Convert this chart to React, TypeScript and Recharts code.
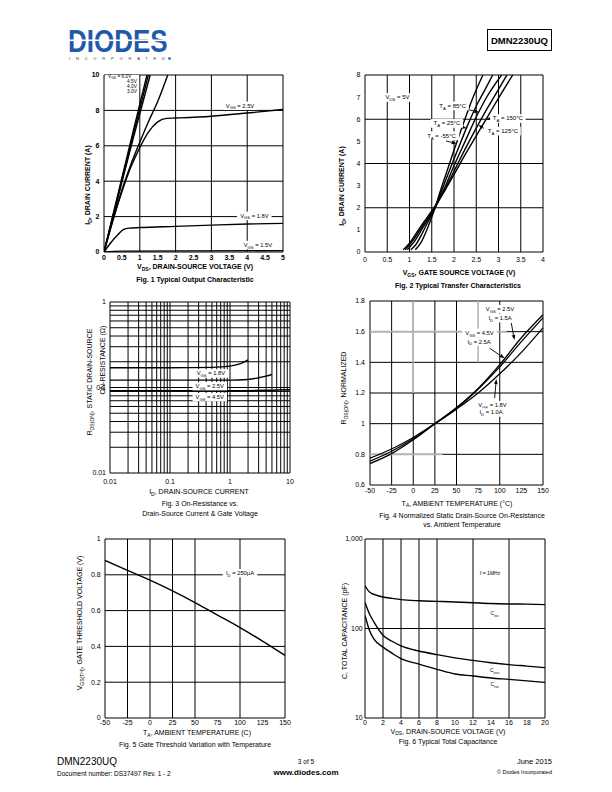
import React from 'react';
import {
  LineChart,
  Line,
  XAxis,
  YAxis,
  CartesianGrid,
  ReferenceDot,
  ReferenceLine,
  ReferenceArea,
} from 'recharts';

const FONT = '"Liberation Sans", Arial, Helvetica, sans-serif';

type Pt = [number, number];

// ---- Fig. 1 Typical Output Characteristic (VDS, ID) ----
const F1_X_TICKS = [0, 0.5, 1, 1.5, 2, 2.5, 3, 3.5, 4, 4.5, 5];
const F1_Y_TICKS = [0, 2, 4, 6, 8, 10];
const F1_VGS60: Pt[] = [[0, 0], [0.4, 3.35], [0.8, 6.7], [1.2, 10]];
const F1_VGS45: Pt[] = [[0, 0], [0.4, 3.25], [0.8, 6.5], [1.24, 10]];
const F1_VGS40: Pt[] = [[0, 0], [0.4, 3.15], [0.8, 6.3], [1.29, 10]];
const F1_VGS30: Pt[] = [[0, 0], [0.25, 1.8], [0.5, 3.5], [0.75, 4.95], [1.0, 6.2], [1.25, 7.4], [1.5, 8.5], [1.78, 10]];
const F1_VGS25: Pt[] = [[0, 0], [0.25, 1.8], [0.5, 3.4], [0.75, 4.8], [1.0, 5.9], [1.25, 6.8], [1.5, 7.35], [1.75, 7.55], [2, 7.57], [3, 7.67], [4, 7.85], [5, 8.05]];
const F1_VGS18: Pt[] = [[0, 0], [0.2, 0.55], [0.4, 1.0], [0.55, 1.28], [0.7, 1.35], [1, 1.38], [2, 1.45], [3, 1.52], [4, 1.58], [5, 1.62]];
const F1_VGS15: Pt[] = [[0, 0], [0.5, 0.05], [5, 0.08]];

// ---- Fig. 2 Typical Transfer Characteristics (VGS, ID) ----
const F2_X_TICKS = [0, 0.5, 1, 1.5, 2, 2.5, 3, 3.5, 4];
const F2_Y_TICKS = [0, 1, 2, 3, 4, 5, 6, 7, 8];
const F2_TM55: Pt[] = [[1.13, 0.1], [1.25, 0.4], [1.4, 1.05], [1.55, 1.85], [1.7, 2.8], [1.85, 3.7], [2.0, 4.6], [2.2, 5.75], [2.4, 6.85], [2.65, 8.0]];
const F2_T25: Pt[] = [[1.03, 0.1], [1.15, 0.35], [1.3, 0.9], [1.45, 1.5], [1.55, 1.9], [1.7, 2.65], [1.9, 3.7], [2.1, 4.7], [2.3, 5.7], [2.5, 6.6], [2.7, 7.35], [2.87, 8.0]];
const F2_T85: Pt[] = [[0.95, 0.1], [1.1, 0.45], [1.3, 1.1], [1.55, 1.9], [1.8, 2.95], [2.0, 3.9], [2.25, 5.0], [2.5, 6.1], [2.75, 7.05], [3.07, 8.0]];
const F2_T125: Pt[] = [[0.9, 0.1], [1.05, 0.45], [1.3, 1.2], [1.55, 1.95], [1.8, 2.85], [2.0, 3.65], [2.25, 4.65], [2.5, 5.6], [2.75, 6.5], [3.0, 7.35], [3.19, 8.0]];
const F2_T150: Pt[] = [[0.86, 0.1], [1.0, 0.4], [1.25, 1.15], [1.55, 2.0], [1.8, 2.8], [2.0, 3.5], [2.25, 4.4], [2.5, 5.25], [2.75, 6.1], [3.0, 6.95], [3.32, 8.0]];

// ---- Fig. 3 On-Resistance vs. ID (log-log) ----
const F3_X_DECADES = [0.01, 0.1, 1, 10];
const F3_Y_DECADES = [0.01, 0.1, 1];
const F3_VGS18: Pt[] = [[0.01, 0.17], [0.1, 0.17], [0.5, 0.172], [1, 0.178], [1.5, 0.19], [2, 0.21]];
const F3_VGS25: Pt[] = [[0.01, 0.122], [0.1, 0.122], [1, 0.122], [2, 0.124], [3, 0.13], [4, 0.136], [5, 0.142]];
const F3_VGS45: Pt[] = [[0.01, 0.0915], [1, 0.0915], [5, 0.093], [10, 0.094]];

// ---- Fig. 4 Normalized RDS(ON) vs. TA ----
const F4_X_TICKS = [-50, -25, 0, 25, 50, 75, 100, 125, 150];
const F4_Y_TICKS = [0.6, 0.8, 1, 1.2, 1.4, 1.6, 1.8];
const F4_TEMPS = [-50, -25, 0, 25, 50, 75, 100, 125, 150];
const F4_VGS25 = [0.74, 0.805, 0.895, 1.0, 1.105, 1.23, 1.385, 1.56, 1.71];
const F4_VGS45 = [0.755, 0.82, 0.902, 1.0, 1.1, 1.225, 1.37, 1.535, 1.69];
const F4_VGS18 = [0.775, 0.835, 0.91, 1.0, 1.095, 1.2, 1.325, 1.465, 1.625];

// ---- Fig. 5 Gate threshold vs. TA ----
const F5_X_TICKS = [-50, -25, 0, 25, 50, 75, 100, 125, 150];
const F5_Y_TICKS = [0, 0.2, 0.4, 0.6, 0.8, 1];
const F5_TEMPS = [-50, -25, 0, 25, 50, 75, 100, 125, 150];
const F5_VTH = [0.88, 0.825, 0.77, 0.71, 0.645, 0.575, 0.505, 0.43, 0.35];

// ---- Fig. 6 Typical Total Capacitance ----
const F6_X_TICKS = [0, 2, 4, 6, 8, 10, 12, 14, 16, 18, 20];
const F6_Y_TICKS = [10, 100, 1000];
const F6_VDS = [0, 0.5, 1, 2, 3, 4, 6, 8, 10, 12, 14, 16, 18, 20];
const F6_CISS = [300, 255, 240, 225, 217, 210, 204, 201, 198, 194, 190, 188, 187, 185];
const F6_COSS = [195, 145, 118, 84, 72, 64, 56, 51, 47, 44, 41.5, 39.5, 38, 36.5];
const F6_CRSS = [140, 95, 76, 62, 53, 46, 40, 35, 31, 29.5, 28, 27, 26, 25];

const rows = (pts: Pt[]) => pts.map(([x, y]) => ({ x, y }));
const zipRows = (xs: number[], ys: number[]) => xs.map((x, i) => ({ x, y: ys[i] }));
const minorTicks = (decades: number[]) => {
  const out: number[] = [];
  decades.forEach((d, i) => {
    if (i === decades.length - 1) out.push(d);
    else for (let k = 1; k <= 9; k++) out.push(k * d);
  });
  return out;
};
const isDecade = (v: number) => Math.abs(Math.log10(v) - Math.round(Math.log10(v))) < 1e-6;

// very small rich-text: "V_{GS} = 2.5V"
function parseRich(s: string) {
  const out: { t: string; sub: boolean }[] = [];
  const re = /_\{([^}]*)\}/g;
  let last = 0;
  let m: RegExpExecArray | null;
  while ((m = re.exec(s))) {
    if (m.index > last) out.push({ t: s.slice(last, m.index), sub: false });
    out.push({ t: m[1], sub: true });
    last = re.lastIndex;
  }
  if (last < s.length) out.push({ t: s.slice(last), sub: false });
  return out;
}

const richHtml = (s: string) =>
  parseRich(s).map((p, i) =>
    p.sub ? (
      <span key={i} style={{ fontSize: '0.72em', position: 'relative', top: '0.3em' }}>{p.t}</span>
    ) : (
      <span key={i}>{p.t}</span>
    )
  );

function SvgRich({ x, y, text, fs, anchor = 'start' }: { x: number; y: number; text: string; fs: number; anchor?: string }) {
  let shift = 0;
  return (
    <text x={x} y={y} fontSize={fs} textAnchor={anchor as any} fontFamily={FONT} fill="#000">
      {parseRich(text).map((p, i) => {
        const target = p.sub ? fs * 0.3 : 0;
        const dy = target - shift;
        shift = target;
        return (
          <tspan key={i} dy={dy} fontSize={p.sub ? fs * 0.72 : fs}>
            {p.t}
          </tspan>
        );
      })}
    </text>
  );
}

// text annotation placed in data coordinates, centred vertically on y
function note(key: string, x: number, y: number, text: string, fs = 5.8, anchor = 'middle', bg = true) {
  const plain = text.replace(/_\{([^}]*)\}/g, '$1');
  const w = plain.length * fs * 0.56 + 2;
  return (
    <ReferenceDot
      key={key}
      x={x}
      y={y}
      r={0}
      ifOverflow="visible"
      shape={(p: any) => {
        const left = anchor === 'middle' ? p.cx - w / 2 : anchor === 'end' ? p.cx - w + 1 : p.cx - 1;
        return (
          <g>
            {bg && <rect x={left} y={p.cy - fs * 0.7} width={w} height={fs * 1.45} fill="#fff" />}
            <SvgRich x={p.cx} y={p.cy + fs * 0.35} text={text} fs={fs} anchor={anchor} />
          </g>
        );
      }}
    />
  );
}

function ArrowShape(p: any) {
  const { x1, y1, x2, y2 } = p;
  const a = Math.atan2(y2 - y1, x2 - x1);
  const L = 5;
  const W = 1.8;
  const bx = x2 - L * Math.cos(a);
  const by = y2 - L * Math.sin(a);
  const pts = [
    [x2, y2],
    [bx + W * Math.sin(a), by - W * Math.cos(a)],
    [bx - W * Math.sin(a), by + W * Math.cos(a)],
  ]
    .map((q) => q.join(','))
    .join(' ');
  return (
    <g>
      <line x1={x1} y1={y1} x2={bx} y2={by} stroke="#000" strokeWidth={0.9} />
      <polygon points={pts} fill="#000" />
    </g>
  );
}

const arrow = (key: string, x1: number, y1: number, x2: number, y2: number) => (
  <ReferenceLine
    key={key}
    segment={[{ x: x1, y: y1 }, { x: x2, y: y2 }]}
    ifOverflow="visible"
    shape={(p: any) => <ArrowShape {...p} />}
  />
);

// light grey stretches of grid seen in Fig. 4
const greySeg = (key: string, x1: number, y1: number, x2: number, y2: number) => (
  <ReferenceLine key={key} segment={[{ x: x1, y: y1 }, { x: x2, y: y2 }]} stroke="#b4b4b4" strokeWidth={1.6} />
);

const tick = { fontSize: 7, fill: '#000', fontFamily: FONT };
const tickBold = { ...tick, fontWeight: 'bold' };

type Plot = { l: number; t: number; w: number; h: number };

function Frame({ plot, yW = 34, xH = 16, children }: { plot: Plot; yW?: number; xH?: number; children: React.ReactNode }) {
  const T = 6;
  const R = 8;
  return (
    <div style={{ position: 'absolute', left: plot.l - yW, top: plot.t - T }}>
      <LineChart width={yW + plot.w + R} height={T + plot.h + xH} margin={{ top: T, right: R, left: 0, bottom: 0 }}>
        {children}
      </LineChart>
    </div>
  );
}

const curve = (key: string, data: { x: number; y: number }[], w = 1.4) => (
  <Line
    key={key}
    data={data}
    dataKey="y"
    type="monotone"
    stroke="#000"
    strokeWidth={w}
    dot={false}
    activeDot={false}
    isAnimationActive={false}
  />
);

function Txt({ x, y, text, fs = 7, bold = false, anchor = 'middle' }: { x: number; y: number; text: string; fs?: number; bold?: boolean; anchor?: 'middle' | 'start' | 'end' }) {
  const tx = anchor === 'middle' ? '-50%' : anchor === 'end' ? '-100%' : '0';
  return (
    <div
      style={{
        position: 'absolute',
        left: x,
        top: y,
        transform: `translate(${tx},-50%)`,
        whiteSpace: 'nowrap',
        fontSize: fs,
        lineHeight: 1,
        fontFamily: FONT,
        fontWeight: bold ? 'bold' : 'normal',
        color: '#000',
      }}
    >
      {richHtml(text)}
    </div>
  );
}

function YTitle({ x, y, text, fs = 7, bold = false }: { x: number; y: number; text: string; fs?: number; bold?: boolean }) {
  return (
    <div
      style={{
        position: 'absolute',
        left: x,
        top: y,
        transform: 'translate(-50%,-50%) rotate(-90deg)',
        whiteSpace: 'nowrap',
        fontSize: fs,
        lineHeight: 1,
        fontFamily: FONT,
        fontWeight: bold ? 'bold' : 'normal',
        color: '#000',
      }}
    >
      {richHtml(text)}
    </div>
  );
}

const grid = <CartesianGrid stroke="#000" strokeWidth={1} fill="none" />;

function Fig1() {
  const plot = { l: 104, t: 75, w: 179, h: 177 };
  return (
    <>
      <Frame plot={plot}>
        {grid}
        <XAxis dataKey="x" type="number" domain={[0, 5]} ticks={F1_X_TICKS} tick={tickBold} tickSize={0} tickMargin={3} axisLine={false} height={16} allowDataOverflow />
        <YAxis type="number" domain={[0, 10]} ticks={F1_Y_TICKS} tick={tickBold} tickSize={0} tickMargin={4.5} axisLine={false} width={34} allowDataOverflow />
        <ReferenceArea x1={0.03} x2={0.98} y1={8.95} y2={10} fill="#fff" fillOpacity={1} stroke="none" />
        {note('n60', 0.11, 9.93, 'V_{GS} = 6.0V', 4.8, 'start', false)}
        {note('n45', 0.92, 9.66, '4.5V', 4.8, 'end', false)}
        {note('n40', 0.92, 9.38, '4.0V', 4.8, 'end', false)}
        {note('n30', 0.92, 9.1, '3.0V', 4.8, 'end', false)}
        {note('n25', 3.8, 8.27, 'V_{GS} = 2.5V')}
        {note('n18', 4.2, 2.05, 'V_{GS} = 1.8V')}
        {note('n15', 4.3, 0.4, 'V_{GS} = 1.5V')}
        {curve('v60', rows(F1_VGS60))}
        {curve('v45', rows(F1_VGS45))}
        {curve('v40', rows(F1_VGS40))}
        {curve('v30', rows(F1_VGS30))}
        {curve('v25', rows(F1_VGS25))}
        {curve('v18', rows(F1_VGS18))}
        {curve('v15', rows(F1_VGS15))}
      </Frame>
      <YTitle x={88} y={185} text="I_{D}, DRAIN CURRENT (A)" bold />
      <Txt x={195} y={267} text="V_{DS}, DRAIN-SOURCE VOLTAGE (V)" bold />
      <Txt x={195} y={278.5} text="Fig. 1 Typical Output Characteristic" bold />
    </>
  );
}

function Fig2() {
  const plot = { l: 365, t: 75, w: 178, h: 177 };
  return (
    <>
      <Frame plot={plot}>
        {grid}
        <XAxis dataKey="x" type="number" domain={[0, 4]} ticks={F2_X_TICKS} tick={tick} tickSize={0} tickMargin={5.5} axisLine={false} height={16} allowDataOverflow />
        <YAxis type="number" domain={[0, 8]} ticks={F2_Y_TICKS} tick={tick} tickSize={0} tickMargin={4.5} axisLine={false} width={34} allowDataOverflow />
        {note('vds', 0.73, 6.99, 'V_{DS} = 5V', 6)}
        {note('t85', 1.97, 6.61, 'T_{A} = 85°C', 6)}
        {note('t25', 1.84, 5.82, 'T_{A} = 25°C', 6)}
        {note('tm55', 1.72, 5.26, 'T_{A} = -55°C', 6)}
        {note('t150', 3.21, 6.04, 'T_{A} = 150°C', 6)}
        {note('t125', 3.1, 5.47, 'T_{A} = 125°C', 6)}
        {curve('m55', rows(F2_TM55))}
        {curve('c25', rows(F2_T25))}
        {curve('c85', rows(F2_T85))}
        {curve('c125', rows(F2_T125))}
        {curve('c150', rows(F2_T150))}
        {arrow('a85', 2.28, 6.46, 2.57, 6.31)}
        {arrow('a25', 2.06, 5.71, 2.285, 5.59)}
        {arrow('am55', 1.82, 5.02, 2.06, 4.9)}
        {arrow('a150', 2.88, 6.04, 2.72, 6.0)}
        {arrow('a125', 2.67, 5.59, 2.546, 5.74)}
      </Frame>
      <YTitle x={342} y={186} text="I_{D}, DRAIN CURRENT (A)" bold />
      <Txt x={459} y={273} text="V_{GS}, GATE SOURCE VOLTAGE (V)" bold />
      <Txt x={458} y={285} text="Fig. 2 Typical Transfer Characteristics" bold />
    </>
  );
}

function Fig3() {
  const plot = { l: 110, t: 302, w: 180, h: 171 };
  const fmt = (v: number) => (isDecade(v) ? String(Number(v.toPrecision(3))) : '');
  return (
    <>
      <Frame plot={plot}>
        {grid}
        <XAxis dataKey="x" type="number" scale="log" domain={[0.01, 10]} ticks={minorTicks(F3_X_DECADES)} tickFormatter={fmt} interval={0} tick={tick} tickSize={0} tickMargin={6.5} axisLine={false} height={16} allowDataOverflow />
        <YAxis type="number" scale="log" domain={[0.01, 1]} ticks={minorTicks(F3_Y_DECADES)} tickFormatter={fmt} interval={0} tick={tick} tickSize={0} tickMargin={4} axisLine={false} width={34} allowDataOverflow />
        {note('g18', 0.48, 0.1466, 'V_{GS} = 1.8V')}
        {note('g25', 0.46, 0.104, 'V_{GS} = 2.5V')}
        {note('g45', 0.46, 0.0774, 'V_{GS} = 4.5V')}
        {curve('r18', rows(F3_VGS18))}
        {curve('r25', rows(F3_VGS25))}
        {curve('r45', rows(F3_VGS45))}
      </Frame>
      <YTitle x={90} y={382} text="R_{DS(ON)}, STATIC DRAIN-SOURCE" />
      <YTitle x={101.5} y={360} text="ON-RESISTANCE (Ω)" />
      <Txt x={199} y={492} text="I_{D}, DRAIN-SOURCE CURRENT" />
      <Txt x={200} y={503.3} text="Fig. 3 On-Resistance  vs." />
      <Txt x={200} y={512.7} text="Drain-Source Current & Gate Voltage" />
    </>
  );
}

function Fig4() {
  const plot = { l: 370, t: 301, w: 173, h: 184 };
  return (
    <>
      <Frame plot={plot}>
        {grid}
        <XAxis dataKey="x" type="number" domain={[-50, 150]} ticks={F4_X_TICKS} tick={tick} tickSize={0} tickMargin={3.5} axisLine={false} height={16} allowDataOverflow />
        <YAxis type="number" domain={[0.6, 1.8]} ticks={F4_Y_TICKS} tick={tick} tickSize={0} tickMargin={5} axisLine={false} width={34} allowDataOverflow />
        {greySeg('g1', -50, 1.6, 108, 1.6)}
        {greySeg('g2', -50, 0.8, 34, 0.8)}
        {greySeg('g3', 0, 1.8, 0, 1.2)}
        {greySeg('g4', 75, 1.8, 75, 1.4)}
        {note('l25a', 100.3, 1.748, 'V_{GS} = 2.5V')}
        {note('l25b', 100.3, 1.689, 'I_{D} = 1.5A')}
        {note('l45a', 76.6, 1.593, 'V_{GS} = 4.5V')}
        {note('l45b', 76, 1.535, 'I_{D} = 2.5A')}
        {note('l18a', 91.6, 1.122, 'V_{GS} = 1.8V')}
        {note('l18b', 89.9, 1.074, 'I_{D} = 1.0A')}
        {curve('k25', zipRows(F4_TEMPS, F4_VGS25), 1.3)}
        {curve('k45', zipRows(F4_TEMPS, F4_VGS45), 1.3)}
        {curve('k18', zipRows(F4_TEMPS, F4_VGS18), 1.3)}
        {arrow('b25', 113.3, 1.657, 117, 1.545)}
        {arrow('b45', 88.3, 1.492, 105.6, 1.426)}
        {arrow('b18', 94.1, 1.166, 96, 1.291)}
      </Frame>
      <YTitle x={343.5} y={388} text="R_{DS(ON)}, NORMALIZED" />
      <Txt x={457} y={503.5} text="T_{A}, AMBIENT TEMPERATURE (°C)" />
      <Txt x={462} y={514.5} text="Fig. 4 Normalized Static Drain-Source On-Resistance" />
      <Txt x={462} y={523.5} text="vs. Ambient Temperature" />
    </>
  );
}

function Fig5() {
  const plot = { l: 105, t: 539, w: 180, h: 179 };
  return (
    <>
      <Frame plot={plot}>
        {grid}
        <XAxis dataKey="x" type="number" domain={[-50, 150]} ticks={F5_X_TICKS} tick={tick} tickSize={0} tickMargin={2.5} axisLine={false} height={16} allowDataOverflow />
        <YAxis type="number" domain={[0, 1]} ticks={F5_Y_TICKS} tick={tick} tickSize={0} tickMargin={4.3} axisLine={false} width={34} allowDataOverflow />
        {note('id', 100, 0.81, 'I_{D} = 250µA')}
        {curve('vth', zipRows(F5_TEMPS, F5_VTH))}
      </Frame>
      <YTitle x={80} y={623} text="V_{GS(TH)}, GATE THRESHOLD VOLTAGE (V)" />
      <Txt x={197} y={733.3} text="T_{A}, AMBIENT TEMPERATURE (C)" />
      <Txt x={195} y={744} text="Fig. 5 Gate Threshold Variation with Temperature" />
    </>
  );
}

function Fig6() {
  const plot = { l: 365, t: 539, w: 180, h: 179 };
  const fmt = (v: number) => (v === 1000 ? '1,000' : String(v));
  return (
    <>
      <Frame plot={plot}>
        {grid}
        <XAxis dataKey="x" type="number" domain={[0, 20]} ticks={F6_X_TICKS} tick={tick} tickSize={0} tickMargin={2} axisLine={false} height={16} allowDataOverflow />
        <YAxis type="number" scale="log" domain={[10, 1000]} ticks={F6_Y_TICKS} tickFormatter={fmt} tick={tick} tickSize={0} tickMargin={2.3} axisLine={false} width={34} allowDataOverflow />
        {note('f', 13.9, 417, 'f = 1MHz', 5)}
        {note('ciss', 14.4, 148, 'C_{iss}', 5)}
        {note('coss', 14.4, 34, 'C_{oss}', 5)}
        {note('crss', 14.4, 23.8, 'C_{rss}', 5)}
        {curve('ci', zipRows(F6_VDS, F6_CISS))}
        {curve('co', zipRows(F6_VDS, F6_COSS))}
        {curve('cr', zipRows(F6_VDS, F6_CRSS))}
      </Frame>
      <YTitle x={343.5} y={631} text="C, TOTAL CAPACITANCE (pF)" />
      <Txt x={448} y={731.7} text="V_{DS}, DRAIN-SOURCE VOLTAGE (V)" />
      <Txt x={448} y={741} text="Fig. 6 Typical Total Capacitance" />
    </>
  );
}

function Header() {
  return (
    <>
      <svg style={{ position: 'absolute', left: 66, top: 20 }} width={116} height={44}>
        <g transform="translate(2,32) scale(1,1.2)">
          <text x={0} y={0} fontSize={26} fontWeight={900} fontFamily={FONT} fill="#1e5aa8">
            DIODES
          </text>
        </g>
        <rect x={0} y={19.5} width={106} height={1.6} fill="#fff" />
        <text x={3} y={40} fontSize={4} fontFamily={FONT} fill="#333" textLength={96} lengthAdjust="spacing">
          INCORPORATED
        </text>
        <circle cx={103.5} cy={38.5} r={1.3} fill="#1e5aa8" />
      </svg>
      <div
        style={{
          position: 'absolute',
          left: 487,
          top: 29,
          width: 63,
          height: 20,
          border: '1px solid #000',
          display: 'flex',
          alignItems: 'center',
          justifyContent: 'center',
          fontFamily: FONT,
          fontWeight: 'bold',
          fontSize: 9.5,
        }}
      >
        DMN2230UQ
      </div>
    </>
  );
}

function Footer() {
  return (
    <>
      <Txt x={57} y={762} text="DMN2230UQ" fs={10} anchor="start" />
      <Txt x={57} y={774} text="Document number: DS37497 Rev. 1 - 2" fs={6.5} anchor="start" />
      <Txt x={306} y={761.5} text="3 of 5" fs={6.5} />
      <Txt x={306} y={773} text="www.diodes.com" fs={8} bold />
      <Txt x={552} y={762} text="June 2015" fs={7.5} anchor="end" />
      <Txt x={552} y={773} text="© Diodes Incorporated" fs={5.5} anchor="end" />
    </>
  );
}

export default function App() {
  return (
    <div style={{ position: 'absolute', left: 0, top: 0, width: 612, height: 792, background: '#fff', overflow: 'hidden', fontFamily: FONT }}>
      <Header />
      <Fig1 />
      <Fig2 />
      <Fig3 />
      <Fig4 />
      <Fig5 />
      <Fig6 />
      <Footer />
    </div>
  );
}
